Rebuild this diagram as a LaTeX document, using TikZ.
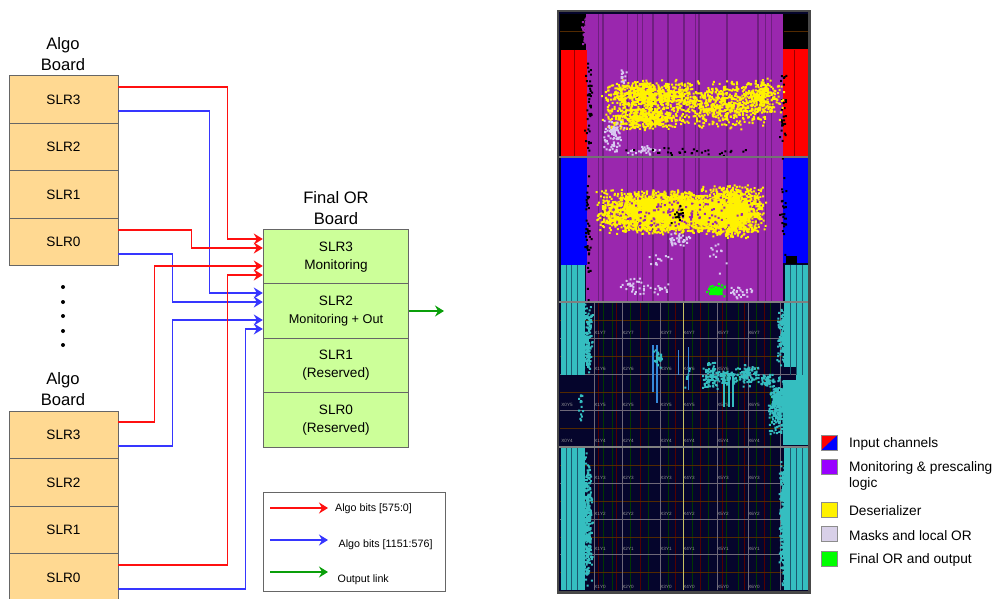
\documentclass[tikz,border=0pt]{standalone}
\usepackage{fontspec}
\setmainfont{Liberation Sans}
\usetikzlibrary{
  arrows.meta,
  positioning
}
\definecolor{boardorange}{HTML}{FFD992}
\definecolor{boardgreen}{HTML}{CCFF99}
\definecolor{bitred}{HTML}{FF1010}
\definecolor{bitblue}{HTML}{3636FF}
\definecolor{linkgreen}{HTML}{0A9F0A}
\definecolor{chipnavy}{HTML}{05052C}
\definecolor{chippurple}{HTML}{9A27AE}
\definecolor{chipline}{HTML}{6F1F80}
\definecolor{chipteal}{HTML}{35BEC0}
\definecolor{chipmask}{HTML}{D8C8F0}
\definecolor{chipframe}{HTML}{484848}
\definecolor{chipgrid}{HTML}{6E6878}
\definecolor{keypurple}{HTML}{9900FF}
\definecolor{keymask}{HTML}{D8D0E8}
\newcommand{\chipdots}[6]{\fill[#1] \foreach \n in {1,...,#2} {({#3+#5*(rnd+rnd)/2},{#4+#6*(rnd+rnd)/2}) rectangle ++(2,2)};}

\begin{document}
\begin{tikzpicture}[
  x=1pt, y=-1pt,
  block/.style={
    rectangle, draw=black!60, line width=0.9pt, fill=boardorange,
    minimum width=109pt, minimum height=47.5pt, align=center,
    font=\fontsize{13.6}{18}\selectfont
  },
  finalblock/.style={
    block, fill=boardgreen, minimum width=145.5pt, minimum height=54.3pt
  },
  title/.style={align=center, font=\fontsize{16.6}{21}\selectfont, inner sep=0pt},
  swatch/.style={
    rectangle, draw=black!45, line width=0.8pt, minimum width=16pt, minimum height=15pt, inner sep=0pt
  },
  swatchlabel/.style={
    inner sep=0pt, align=left, font=\fontsize{13.7}{16}\selectfont
  },
  keylabel/.style={inner sep=0pt, anchor=west, font=\fontsize{10.7}{13}\selectfont},
  flow/.style={-{Stealth[length=9pt, width=11pt, inset=3pt]}, line width=1.6pt},
  redbit/.style={flow, bitred},
  bluebit/.style={flow, bitblue},
  outlink/.style={flow, linkgreen},
  gridmark/.style={inner sep=0pt, text=white!60!black, font=\fontsize{4.6}{5}\selectfont},
]
\useasboundingbox (0,0) rectangle (994,599);

% First algo board
\node[title] (algoatitle) at (63, 54) {Algo\\Board};
\node[block] (algoa3) at (63.5, 99.5) {SLR3};
\node[block] (algoa2) at (63.5, 147) {SLR2};
\node[block] (algoa1) at (63.5, 194.5) {SLR1};
\node[block] (algoa0) at (63.5, 242) {SLR0};

% Dots between the boards
\foreach \doty in {287, 302, 316, 331, 345}
  \fill[black] (63, \doty) circle (2);

% Second algo board
\node[title] (algobtitle) at (63, 389) {Algo\\Board};
\node[block] (algob3) at (63.5, 435) {SLR3};
\node[block] (algob2) at (63.5, 482.5) {SLR2};
\node[block] (algob1) at (63.5, 530) {SLR1};
\node[block] (algob0) at (63.5, 577.5) {SLR0};

% Final OR board
\node[title] (finaltitle) at (336, 208) {Final OR\\Board};
\node[finalblock] (final3) at (336, 257) {SLR3\\Monitoring};
\node[finalblock] (final2) at (336, 311) {SLR2\\{\fontsize{12.7}{18}\selectfont Monitoring + Out}};
\node[finalblock] (final1) at (336, 365.5) {SLR1\\(Reserved)};
\node[finalblock] (final0) at (336, 420) {SLR0\\(Reserved)};

% Bits from the first board
\draw[redbit] ([yshift=12.5pt]algoa3.east) -- ++(109,0) |- ([yshift=18pt]final3.west);
\draw[bluebit] ([yshift=-11.5pt]algoa3.east) -- ++(91,0) |- ([yshift=18pt]final2.west);
\draw[redbit] ([yshift=12pt]algoa0.east) -- ++(73,0) |- ([yshift=9pt]final3.west);
\draw[bluebit] ([yshift=-12pt]algoa0.east) -- ++(54,0) |- ([yshift=9pt]final2.west);

% Bits from the second board
\draw[redbit] ([yshift=13pt]algob3.east) -- ++(36,0) |- ([yshift=-9pt]final3.west);
\draw[bluebit] ([yshift=-11pt]algob3.east) -- ++(54,0) |- ([yshift=-9pt]final2.west);
\draw[redbit] ([yshift=12.5pt]algob0.east) -- ++(109,0) |- ([yshift=-18pt]final3.west);
\draw[bluebit] ([yshift=-11.5pt]algob0.east) -- ++(127,0) |- ([yshift=-18pt]final2.west);

% Output link
\coordinate (outend) at (444, 311);
\draw[outlink] (final2.east) -- (outend);

% Key of the links
\node[draw=black!60, line width=0.9pt, minimum width=181.5pt, minimum height=99pt, inner sep=0pt] (linkkey) at (354.5, 541.5) {};
\coordinate (keyred0) at (270, 508);
\coordinate (keyred1) at (328, 508);
\coordinate (keyblue0) at (270, 540);
\coordinate (keyblue1) at (328, 540);
\coordinate (keygreen0) at (270, 572);
\coordinate (keygreen1) at (328, 572);
\draw[redbit] (keyred0) -- (keyred1);
\draw[bluebit] (keyblue0) -- (keyblue1);
\draw[outlink] (keygreen0) -- (keygreen1);
\node[keylabel] (keyredtext) at (335, 508.5) {Algo bits [575:0]};
\node[keylabel] (keybluetext) at (338.5, 544.5) {Algo bits [1151:576]};
\node[keylabel] (keygreentext) at (337.5, 579.5) {Output link};

% Chip: background and clock region grid
\fill[chipnavy] (559, 12) rectangle (809, 592);
\foreach \gx in {603, 612, 630, 648, 668, 692, 708, 726, 738, 756, 770}
  \draw[green!22!black, line width=0.5pt] (\gx, 303) -- (\gx, 590);
\foreach \gx in {598, 616, 640, 675, 700, 722, 744, 764}
  \draw[red!32!black, line width=0.5pt] (\gx, 303) -- (\gx, 590);
\foreach \gy in {320, 356, 392, 428, 465, 501, 537, 572}
  \draw[orange!32!black, line width=0.5pt] (560, \gy) -- (808, \gy);
\foreach \gy in {338, 374, 410, 483, 519, 554}
  \draw[chipgrid, line width=0.6pt] (560, \gy) -- (808, \gy);
\foreach \gx in {594, 622, 660, 717, 748, 780}
  \draw[chipgrid, line width=0.6pt] (\gx, 303) -- (\gx, 590);
\draw[yellow!50!gray, line width=1pt] (683.5, 303) -- (683.5, 590);
\foreach \gy/\rowname in {333/7, 369/6, 405/5, 441/4, 478/3, 514/2, 549/1, 587/0}
  \foreach \gx/\colname in {600/1, 628/2, 666/3, 689/4, 723/5, 754/6}
    \node[gridmark] (mark\colname\rowname) at (\gx, \gy) {X\colname Y\rowname};
\node[gridmark] (markleftfive) at (567, 405) {X0Y5};
\node[gridmark] (markleftfour) at (567, 441) {X0Y4};

% Chip: teal logic in the two lower regions
\pgfmathsetseed{4711}
\fill[chipteal] (561, 303) rectangle (585, 375);
\fill[chipteal] (561, 448) rectangle (585, 590);
\fill[chipteal] (784, 303) rectangle (808, 367);
\fill[chipteal] (784, 448) rectangle (808, 590);
\fill[chipteal] (783, 380) rectangle (808, 445);
\fill[chipteal] (796, 367) rectangle (808, 380);
\chipdots{chipteal}{170}{581}{303}{11}{72}
\chipdots{chipteal}{320}{581}{448}{11}{142}
\chipdots{chipteal}{150}{776}{303}{12}{64}
\chipdots{chipteal}{320}{778}{448}{10}{142}
\chipdots{chipteal}{300}{766}{374}{22}{62}
\chipdots{chipteal}{14}{577}{375}{6}{60}
\foreach \gx in {566, 571, 577, 790, 796, 802}
  \draw[chipnavy!55!chipteal, line width=0.5pt] (\gx, 303) -- (\gx, 375) (\gx, 448) -- (\gx, 590);
\draw[bitblue!40!chipteal, line width=1.2pt] (653, 345) -- (653, 392);
\draw[bitblue!40!chipteal, line width=1.2pt] (657, 345) -- (657, 403);
\draw[bitblue!40!chipteal, line width=1pt] (678, 350) -- (678, 375);
\draw[bitblue!40!chipteal, line width=1pt] (688, 347) -- (688, 390);
\foreach \gx in {724, 729, 733}
  \draw[chipteal, line width=2.2pt] (\gx, 373) -- (\gx, 407);
\chipdots{chipteal}{26}{652}{342}{10}{28}
\chipdots{chipteal}{90}{698}{360}{22}{30}
\chipdots{chipteal}{60}{712}{370}{28}{14}
\chipdots{chipteal}{90}{734}{362}{26}{24}
\chipdots{chipteal}{34}{758}{372}{16}{14}
\chipdots{chipteal}{6}{684}{347}{6}{45}

% Chip: two upper regions
\fill[black] (560, 14) rectangle (587, 156);
\fill[black] (781, 14) rectangle (808, 156);
\draw[orange!32!black, line width=0.5pt] (560, 31) -- (586, 31);
\draw[orange!32!black, line width=0.5pt] (784, 31) -- (808, 31);
\fill[chippurple] (586, 14) rectangle (783, 301);
\chipdots{chippurple}{70}{581}{14}{9}{40}
\fill[red] (561, 50) rectangle (587, 156);
\fill[red] (783, 49) rectangle (808, 156);
\fill[blue] (561, 158) rectangle (587, 265);
\fill[blue] (783, 158) rectangle (808, 263);
\fill[chipteal] (561, 265) rectangle (585, 301);
\fill[chipteal] (785, 265) rectangle (808, 301);
\foreach \gx in {566, 571, 577, 790, 796, 802}
  \draw[chipnavy!50!chipteal, line width=0.5pt] (\gx, 265) -- (\gx, 301);
\draw[red!60!black, line width=0.7pt] (574, 50) -- (574, 156) (794, 50) -- (794, 156);
\chipdots{black}{45}{584}{52}{8}{108}
\chipdots{black}{40}{584}{160}{7}{140}
\chipdots{black}{30}{778}{52}{8}{108}
\chipdots{black}{26}{779}{160}{7}{100}
\fill[black] (786, 256) rectangle (797, 264);
\foreach \gx/\gw in {598/0.7, 603/1.3, 627/0.7, 637/0.7, 642/0.7, 653/1.1, 668/1.1, 684/1.4, 695/0.9, 699/1.1, 727/1.4, 758/1.1, 765/0.7, 771/0.7}
  \draw[chipline, line width=\gw pt] (\gx, 14) -- (\gx, 301);

% Chip: deserializer
\chipdots{yellow}{620}{600}{78}{96}{32}
\chipdots{yellow}{420}{600}{104}{84}{26}
\chipdots{yellow}{620}{656}{78}{126}{52}
\chipdots{yellow}{200}{740}{76}{44}{40}
\chipdots{yellow}{2000}{594}{188}{116}{46}
\chipdots{yellow}{1500}{696}{184}{70}{54}
\chipdots{yellow}{700}{662}{192}{62}{40}
\chipdots{chippurple}{110}{600}{194}{160}{36}
\chipdots{black}{16}{670}{203}{14}{22}

% Chip: masks, local OR and output
\chipdots{chipmask}{80}{600}{116}{26}{40}
\chipdots{chipmask}{14}{618}{68}{8}{18}
\chipdots{chipmask}{30}{626}{144}{34}{12}
\chipdots{chipmask}{36}{668}{230}{24}{18}
\chipdots{chipmask}{12}{644}{246}{28}{24}
\chipdots{chipmask}{12}{708}{238}{26}{36}
\chipdots{chipmask}{30}{618}{274}{38}{22}
\chipdots{chipmask}{12}{652}{282}{16}{16}
\chipdots{chipmask}{24}{724}{282}{30}{18}
\chipdots{black}{30}{606}{146}{150}{10}
\fill[green] (710, 289) -- (716, 286) -- (722, 290) -- (723, 295) -- (709, 295) -- cycle;
\chipdots{green}{30}{706}{282}{20}{14}

% Chip: region borders and frame
\draw[white!45!black, line width=1.2pt] (559, 157) -- (809, 157);
\draw[white!50!black, line width=1.6pt] (559, 302) -- (809, 302);
\draw[white!50!black, line width=1.6pt] (559, 447) -- (809, 447);
\draw[chipframe, line width=2.4pt] (558, 11) rectangle (809.5, 592.5);

% Legend of the chip
\node[swatch, path picture={
    \fill[red] (path picture bounding box.north west) rectangle (path picture bounding box.south east);
    \fill[blue] (path picture bounding box.north east) -- (path picture bounding box.south east) -- (path picture bounding box.south west) -- cycle;
  }] (swinput) at (829.5, 442.5) {};
\node[swatch, fill=keypurple] (swmon) at (829.5, 466.5) {};
\node[swatch, fill=yellow] (swdes) at (829.5, 509.5) {};
\node[swatch, fill=keymask] (swmask) at (829.5, 534) {};
\node[swatch, fill=green] (swfin) at (829.5, 558.5) {};
\node[swatchlabel, right=11pt of swinput, yshift=-1.5pt] (txtinput) {Input channels};
\node[swatchlabel, anchor=north west] (txtmon) at (849, 461.5) {Monitoring \& prescaling\\logic};
\node[swatchlabel, right=11pt of swdes, yshift=-1.5pt] (txtdes) {Deserializer};
\node[swatchlabel, right=11pt of swmask, yshift=-1.5pt] (txtmask) {Masks and local OR};
\node[swatchlabel, right=11pt of swfin, yshift=-1.5pt] (txtfin) {Final OR and output};

\end{tikzpicture}
\end{document}
